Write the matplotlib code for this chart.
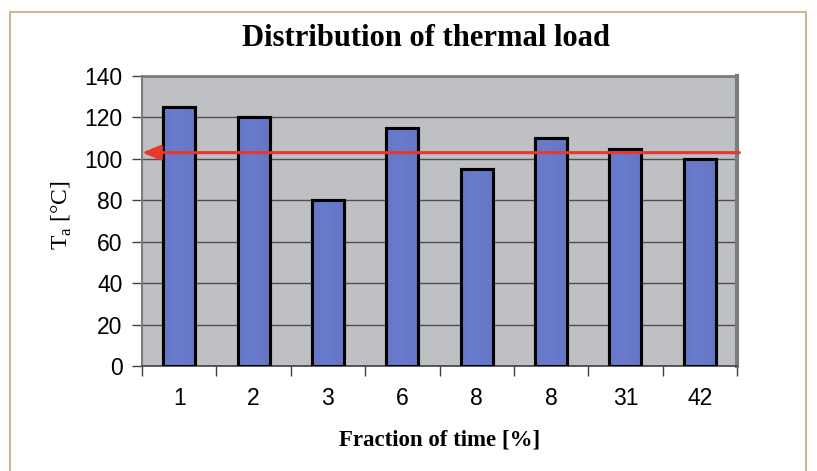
import matplotlib
matplotlib.use("Agg")
import matplotlib.pyplot as plt
from matplotlib.patches import Rectangle
import numpy as np

categories = ["1", "2", "3", "6", "8", "8", "31", "42"]
values = [125, 120, 80, 115, 95, 110, 105, 100]
reference_level = 103
y_ticks = [0, 20, 40, 60, 80, 100, 120, 140]

W, H = 817, 471
fig = plt.figure(figsize=(W / 100, H / 100), dpi=100)
fig.patch.set_facecolor("white")

# outer frame
fig.patches.append(Rectangle((10 / W, -0.05), (806 - 10) / W, 1.05 - 12 / H,
                             transform=fig.transFigure, fill=False,
                             edgecolor=(0.80, 0.71, 0.60), linewidth=1.5))

ax = fig.add_axes([142 / W, (H - 366) / H, (737 - 142) / W, (366 - 76) / H])
ax.set_facecolor((0.745, 0.753, 0.765))

x = np.arange(len(categories))
bars = ax.bar(x, values, width=0.43, color=(0.41, 0.48, 0.74),
              edgecolor="black", linewidth=2.2, zorder=3)

# subtle horizontal gradient on bars
grad = np.linspace(0, 1, 64)
shade = 1 - 0.35 * np.abs(grad - 0.4)
img = np.zeros((1, 64, 3))
base = np.array([0.36, 0.42, 0.70])
for i in range(64):
    img[0, i] = np.clip(base * (0.9 + 0.25 * shade[i]), 0, 1)
for b in bars:
    x0, w, h = b.get_x(), b.get_width(), b.get_height()
    im = ax.imshow(img, extent=(x0, x0 + w, 0, h), aspect="auto", zorder=3.5,
                   interpolation="bilinear")
    im.set_clip_path(b)
    ax.add_patch(Rectangle((x0, 0), w, h, fill=False, edgecolor="black",
                           linewidth=2.2, zorder=4))

ax.set_xlim(-0.5, len(categories) - 0.5)
ax.set_ylim(0, 140)
ax.set_yticks(y_ticks)
ax.yaxis.grid(True, color=(0.30, 0.30, 0.32), linewidth=1.0, zorder=1)
ax.set_axisbelow(True)

ax.set_xticks(x)
ax.set_xticklabels(categories, fontfamily="Liberation Sans", fontsize=16.5)
ax.set_xticks(np.arange(-0.5, len(categories)), minor=True)
ax.tick_params(axis="x", which="major", length=0, pad=15)
ax.tick_params(axis="x", which="minor", length=7, width=1, color=(0.25, 0.25, 0.25))
ax.tick_params(axis="y", length=7, width=1, color=(0.25, 0.25, 0.25), pad=7)
for lab in ax.get_yticklabels():
    lab.set_fontfamily("Liberation Sans")
    lab.set_fontsize(16.5)

for s in ["top", "right", "left"]:
    ax.spines[s].set_color((0.47, 0.49, 0.51))
ax.spines["top"].set_linewidth(2)
ax.spines["right"].set_linewidth(3)
ax.spines["left"].set_linewidth(1.5)
ax.spines["bottom"].set_color((0.25, 0.25, 0.25))
ax.spines["bottom"].set_linewidth(1.2)

# reference arrow
ax.annotate("", xy=(0.0, reference_level), xytext=(1.004, reference_level),
            xycoords=("axes fraction", "data"), textcoords=("axes fraction", "data"),
            arrowprops=dict(arrowstyle="-|>,head_length=1.1,head_width=0.45",
                            color=(0.90, 0.22, 0.17), linewidth=2.2,
                            shrinkA=0, shrinkB=0),
            zorder=6, annotation_clip=False)

fig.text(426 / W, 1 - 39 / H, "Distribution of thermal load", ha="center", va="center",
         fontfamily="Liberation Serif", fontweight="bold", fontsize=22)
fig.text(440 / W, 1 - 440 / H, "Fraction of time [%]", ha="center", va="center",
         fontfamily="Liberation Serif", fontweight="bold", fontsize=16.5)
fig.text(62 / W, 1 - 215 / H, r"T$_\mathregular{a}$ [°C]", ha="center", va="center",
         rotation=90, fontfamily="Liberation Serif", fontsize=17)

fig.savefig("out.png", dpi=100)
